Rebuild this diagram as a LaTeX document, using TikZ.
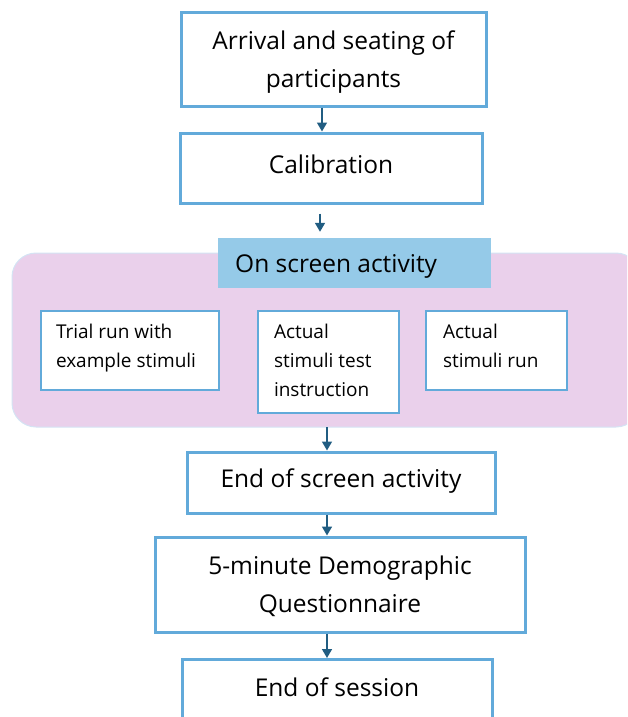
\documentclass[tikz,border=0pt]{standalone}
\usepackage{fontspec}
\setmainfont{Open Sans}
\usetikzlibrary{arrows.meta}
\definecolor{boxblue}{HTML}{62AADA}
\definecolor{arrowblue}{HTML}{215D82}
\definecolor{headfill}{HTML}{95CAE8}
\definecolor{pinkfill}{HTML}{EAD0EB}
\definecolor{pinkedge}{HTML}{D4E4F4}
\tikzset{
  mainbox/.style={draw=boxblue, line width=3pt, fill=white, inner sep=0pt},
  maintext/.style={align=center, inner sep=0pt, font=\fontsize{24.5}{38}\selectfont},
  subbox/.style={draw=boxblue, line width=2.4pt, fill=white, inner sep=0pt},
  subtext/.style={anchor=north west, align=left, inner sep=0pt,
    font=\fontsize{19}{29}\selectfont},
  arr/.style={draw=arrowblue, line width=1.6pt,
    -{Triangle[width=10pt,length=9pt]}},
}
\begin{document}
\begin{tikzpicture}[x=1pt,y=-1pt]
\useasboundingbox (0,0) rectangle (627,717);
\clip (0,0) rectangle (627,717);

% grouping panel for the on-screen steps
\filldraw[fill=pinkfill, draw=pinkedge, line width=1pt, rounded corners=24pt]
  (12,253) rectangle (640,427);
\node[fill=headfill, minimum width=273pt, minimum height=50pt, inner sep=0pt] (head) at (354.5,263) {};
\node[anchor=west, inner sep=0pt, font=\fontsize{24.5}{28}\selectfont] (headtxt) at (235,266) {On screen activity};
\coordinate (panelbottom) at (327,427);

% sequential steps
\node[mainbox, minimum width=305pt, minimum height=93pt] (arrive) at (333.5,59.5) {};
\node[maintext] (arrivetxt) at (333.5,62) {Arrival and seating of\\participants};
\node[mainbox, minimum width=302pt, minimum height=70pt] (calib) at (331,168) {};
\node[maintext] (calibtxt) at (331,164) {Calibration};
\node[mainbox, minimum width=308pt, minimum height=61pt] (endscreen) at (341,482.5) {};
\node[maintext] (endscreentxt) at (341,481) {End of screen activity};
\node[mainbox, minimum width=370pt, minimum height=95pt] (demog) at (340,584.5) {};
\node[maintext] (demogtxt) at (340,586) {5-minute Demographic\\Questionnaire};
\node[mainbox, minimum width=310pt, minimum height=70pt, anchor=north] (endsess) at (337,658) {};
\node[maintext] (endsesstxt) at (337,687) {End of session};

% on-screen sub-steps
\node[subbox, minimum width=178pt, minimum height=79pt] (trial) at (130,350.5) {};
\node[subbox, minimum width=141pt, minimum height=102pt] (instr) at (328.5,362) {};
\node[subbox, minimum width=141pt, minimum height=79pt] (run) at (496.5,350.5) {};
\node[subtext] (trialtxt) at ([xshift=16pt,yshift=-14pt]trial.north west) {Trial run with\\example stimuli};
\node[subtext] (instrtxt) at ([xshift=17pt,yshift=-14pt]instr.north west) {Actual\\stimuli test\\instruction};
\node[subtext] (runtxt) at ([xshift=18pt,yshift=-14pt]run.north west) {Actual\\stimuli run};

% connectors
\coordinate (a1) at (322,0);
\coordinate (a2) at (320,0);
\coordinate (a3) at (327,0);
\draw[arr] (arrive.south -| a1) -- (calib.north -| a1);
\draw[arr] ([yshift=-9pt]calib.south -| a2) -- ([yshift=6pt]head.north -| a2);
\draw[arr] (panelbottom) -- (endscreen.north -| a3);
\draw[arr] (endscreen.south -| a3) -- (demog.north -| a3);
\draw[arr] (demog.south -| a3) -- (endsess.north -| a3);
\end{tikzpicture}
\end{document}
